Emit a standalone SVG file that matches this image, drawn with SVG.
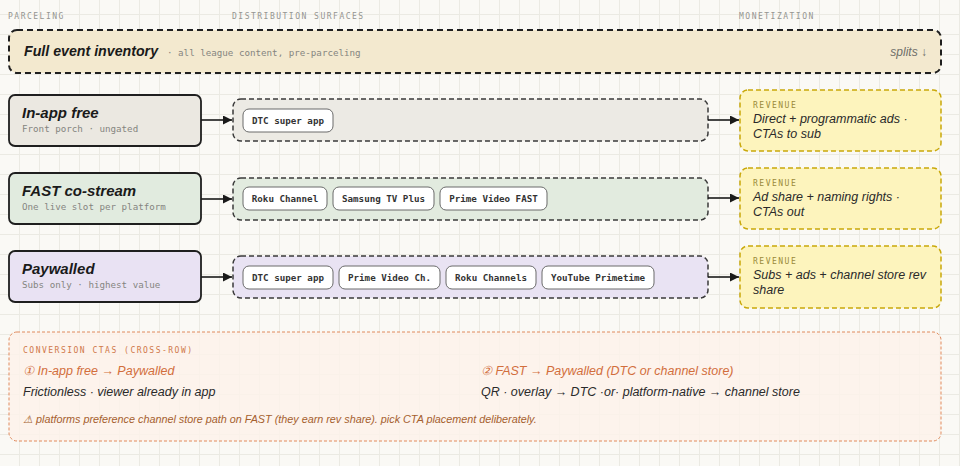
<svg xmlns="http://www.w3.org/2000/svg" width="960" height="466" viewBox="0 0 960 466">
<defs>
<pattern id="grid" patternUnits="userSpaceOnUse" width="20" height="20" x="-1" y="14">
<path d="M0 0.5H20M0.5 0V20" stroke="#ebeae3" stroke-width="1" fill="none"/>
</pattern>
<marker id="arr" viewBox="0 0 10 10" refX="10" refY="5" markerWidth="9" markerHeight="9" markerUnits="userSpaceOnUse" orient="auto">
<path d="M0 0L10 5L0 10z" fill="#1a1a1a"/>
</marker>
<style>
.hdr{font-family:"DejaVu Sans Mono","Liberation Mono",monospace;font-size:8px;letter-spacing:1.5px;fill:#959591}
.title{font-family:"Liberation Sans",Arial,sans-serif;font-weight:bold;font-style:italic;font-size:15px;fill:#1a1a1a}
.sub{font-family:"DejaVu Sans Mono","Liberation Mono",monospace;font-size:9.2px;fill:#85857f}
.hand{font-family:"Liberation Sans",Arial,sans-serif;font-style:italic;font-size:12.5px;fill:#2a2a2a}
.parcel{stroke:#1f1f1f;stroke-width:1.8}
.surf{stroke:#3a3a3a;stroke-width:1.5;stroke-dasharray:5 3}
.chip{fill:#ffffff;stroke:#6a6a6a;stroke-width:1}
.chipt{font-family:"DejaVu Sans Mono","Liberation Mono",monospace;font-size:9.2px;font-weight:bold;fill:#333}
.rev{fill:#fdf4bd;stroke:#c9a80a;stroke-width:1.5;stroke-dasharray:5 3}
.revl{font-family:"DejaVu Sans Mono","Liberation Mono",monospace;font-size:8px;letter-spacing:1.5px;fill:#9a8a3a}
.conn{stroke:#1a1a1a;stroke-width:1.6;fill:none}
.org{font-family:"Liberation Sans",Arial,sans-serif;font-style:italic;font-size:12.5px;fill:#d26e3c}
.ctl{font-family:"DejaVu Sans Mono","Liberation Mono",monospace;font-size:8px;letter-spacing:1.5px;fill:#d0784a}
</style>
</defs>
<rect width="960" height="466" fill="#faf9f5"/>
<rect width="960" height="466" fill="url(#grid)"/>

<g id="headers">
<text class="hdr" x="8" y="19">PARCELING</text>
<text class="hdr" x="232" y="19">DISTRIBUTION SURFACES</text>
<text class="hdr" x="739" y="19">MONETIZATION</text>
</g>

<g id="inventory">
<rect x="9" y="30" width="932" height="43" rx="8" fill="#f3e9cf" stroke="#1f1f1f" stroke-width="2" stroke-dasharray="6 4"/>
<text class="title" x="24" y="56" style="font-size:14.2px">Full event inventory</text>
<text class="sub" x="167" y="56">· all league content, pre-parceling</text>
<text x="927" y="56" text-anchor="end" font-family="Liberation Sans,Arial,sans-serif" font-style="italic" font-size="12" fill="#6f6f6a">splits ↓</text>
</g>

<g id="row-inapp">
<rect class="parcel" x="9" y="95" width="192" height="51" rx="6" fill="#ebe8e1"/>
<text class="title" x="22" y="118">In-app free</text>
<text class="sub" x="22" y="132">Front porch · ungated</text>
</g>
<g id="surf-inapp">
<rect class="surf" x="233" y="99" width="475" height="42" rx="8" fill="#eceae4"/>
<rect class="chip" x="243" y="109" width="90" height="23" rx="6"/>
<text class="chipt" x="288" y="124" text-anchor="middle">DTC super app</text>
</g>
<g id="rev-inapp">
<rect class="rev" x="740" y="90" width="201" height="61" rx="8"/>
<text class="revl" x="753" y="108">REVENUE</text>
<text class="hand" x="753" y="123">Direct + programmatic ads ·</text>
<text class="hand" x="753" y="138">CTAs to sub</text>
</g>

<g id="row-fast">
<rect class="parcel" x="9" y="173" width="192" height="51" rx="6" fill="#e1ebdf"/>
<text class="title" x="22" y="196">FAST co-stream</text>
<text class="sub" x="22" y="210">One live slot per platform</text>
</g>
<g id="surf-fast">
<rect class="surf" x="233" y="178" width="475" height="42" rx="8" fill="#e2ebdf"/>
<rect class="chip" x="243" y="187" width="84" height="23" rx="6"/>
<text class="chipt" x="285" y="202" text-anchor="middle">Roku Channel</text>
<rect class="chip" x="333" y="187" width="101" height="23" rx="6"/>
<text class="chipt" x="383.5" y="202" text-anchor="middle">Samsung TV Plus</text>
<rect class="chip" x="440" y="187" width="107" height="23" rx="6"/>
<text class="chipt" x="493.5" y="202" text-anchor="middle">Prime Video FAST</text>
</g>
<g id="rev-fast">
<rect class="rev" x="740" y="168" width="201" height="61" rx="8"/>
<text class="revl" x="753" y="186">REVENUE</text>
<text class="hand" x="753" y="201">Ad share + naming rights ·</text>
<text class="hand" x="753" y="216">CTAs out</text>
</g>

<g id="row-pay">
<rect class="parcel" x="9" y="251" width="192" height="51" rx="6" fill="#e9e2f3"/>
<text class="title" x="22" y="274">Paywalled</text>
<text class="sub" x="22" y="288">Subs only · highest value</text>
</g>
<g id="surf-pay">
<rect class="surf" x="233" y="256" width="475" height="42" rx="8" fill="#e9e3f3"/>
<rect class="chip" x="243" y="266" width="90" height="23" rx="6"/>
<text class="chipt" x="288" y="281" text-anchor="middle">DTC super app</text>
<rect class="chip" x="339" y="266" width="101" height="23" rx="6"/>
<text class="chipt" x="389.5" y="281" text-anchor="middle">Prime Video Ch.</text>
<rect class="chip" x="446" y="266" width="90" height="23" rx="6"/>
<text class="chipt" x="491" y="281" text-anchor="middle">Roku Channels</text>
<rect class="chip" x="542" y="266" width="112" height="23" rx="6"/>
<text class="chipt" x="598" y="281" text-anchor="middle">YouTube Primetime</text>
</g>
<g id="rev-pay">
<rect class="rev" x="740" y="246" width="201" height="62" rx="8"/>
<text class="revl" x="753" y="264">REVENUE</text>
<text class="hand" x="753" y="279">Subs + ads + channel store rev</text>
<text class="hand" x="753" y="294">share</text>
</g>

<g id="connectors">
<line class="conn" x1="201" y1="120" x2="232" y2="120" marker-end="url(#arr)"/>
<line class="conn" x1="708" y1="120" x2="739" y2="120" marker-end="url(#arr)"/>
<line class="conn" x1="201" y1="199" x2="232" y2="199" marker-end="url(#arr)"/>
<line class="conn" x1="708" y1="198" x2="739" y2="198" marker-end="url(#arr)"/>
<line class="conn" x1="201" y1="277" x2="232" y2="277" marker-end="url(#arr)"/>
<line class="conn" x1="708" y1="277" x2="739" y2="277" marker-end="url(#arr)"/>
</g>

<g id="ctas">
<rect x="9" y="332" width="932" height="109" rx="8" fill="#fdf2ea" fill-opacity="0.85" stroke="#e08a5c" stroke-width="1" stroke-dasharray="3 2"/>
<text class="ctl" x="23" y="353">CONVERSION CTAS (CROSS-ROW)</text>
<text class="org" x="23" y="375">① In-app free → Paywalled</text>
<text class="hand" x="23" y="396">Frictionless · viewer already in app</text>
<text class="org" x="481" y="375">② FAST → Paywalled (DTC or channel store)</text>
<text class="hand" x="481" y="396">QR · overlay → DTC ·or· platform-native → channel store</text>
<text x="23" y="423" font-family="Liberation Sans,Arial,sans-serif" font-style="italic" font-size="10.8" fill="#a5602e">⚠ platforms preference channel store path on FAST (they earn rev share). pick CTA placement deliberately.</text>
</g>
</svg>
